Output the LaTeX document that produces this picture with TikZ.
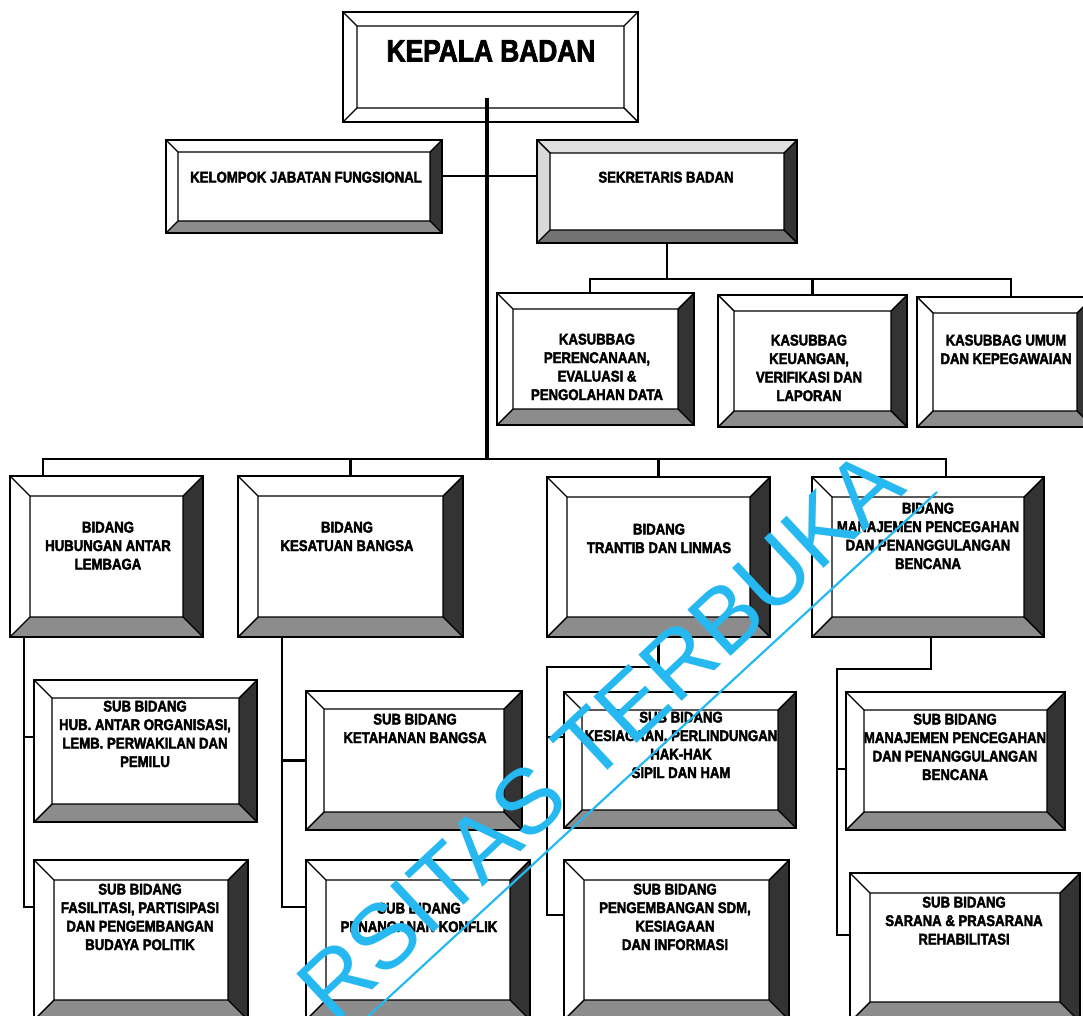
\documentclass[tikz,border=0pt]{standalone}
\usepackage{fontspec}
\usepackage{tikz}
\usetikzlibrary{calc}
\newfontfamily\orgfont{Liberation Sans Bold}[FakeStretch=0.85, FakeBold=2.5]
\newfontfamily\wmfont{Liberation Sans}
\definecolor{wmcyan}{RGB}{38,184,240}
\colorlet{rshade}{black!80}
\colorlet{bshade}{black!45}
\colorlet{tshade}{white}
\colorlet{lshade}{white}

\tikzset{
  bevel/.style={draw, line width=1.6pt, inner sep=0pt, path picture={
    \coordinate (oSW) at (path picture bounding box.south west);
    \coordinate (oNE) at (path picture bounding box.north east);
    \coordinate (oNW) at (path picture bounding box.north west);
    \coordinate (oSE) at (path picture bounding box.south east);
    \coordinate (iSW) at ([shift={(#1pt,#1pt)}]oSW);
    \coordinate (iNE) at ([shift={(-#1pt,-#1pt)}]oNE);
    \coordinate (iNW) at ([shift={(#1pt,-#1pt)}]oNW);
    \coordinate (iSE) at ([shift={(-#1pt,#1pt)}]oSE);
    \fill[tshade] (oNW) -- (oNE) -- (iNE) -- (iNW) -- cycle;
    \fill[lshade] (oNW) -- (oSW) -- (iSW) -- (iNW) -- cycle;
    \fill[rshade] (oNE) -- (oSE) -- (iSE) -- (iNE) -- cycle;
    \fill[bshade] (oSW) -- (oSE) -- (iSE) -- (iSW) -- cycle;
    \draw[line width=1.4pt] (iSW) rectangle (iNE)
      (oSW) -- (iSW) (oSE) -- (iSE) (oNE) -- (iNE) (oNW) -- (iNW);
  }},
  bevel/.default=18,
  flat/.style={/utils/exec={\colorlet{rshade}{white}\colorlet{bshade}{white}}},
  grainy/.style={/utils/exec={\colorlet{tshade}{black!12}\colorlet{lshade}{black!15}\colorlet{bshade}{black!55}}},
  lbl/.style={anchor=north, inner sep=0pt, align=center,
    font=\orgfont\fontsize{15.5}{18.5}\selectfont},
  conn/.style={line width=2.4pt},
}

\begin{document}
\begin{tikzpicture}[x=1pt,y=-1pt]
\useasboundingbox (0,0) rectangle (1083,1016);
\clip (0,0) rectangle (1083,1016);

% top
\node[bevel=14, flat, minimum width=295pt, minimum height=110pt] (kepala) at (490.5,67) {};
\node[bevel=12, minimum width=276pt, minimum height=93pt] (kelompok) at (304,186.5) {};
\node[bevel=13, grainy, minimum width=260pt, minimum height=103pt] (sekretaris) at (667,191.5) {};

% kasubbag
\node[bevel=16, minimum width=197pt, minimum height=132pt] (kasub1) at (595.5,359) {};
\node[bevel=16, minimum width=189pt, minimum height=132pt] (kasub2) at (812.5,361) {};
\node[bevel=16, minimum width=176pt, minimum height=130pt] (kasub3) at (1005,362) {};

% bidang
\node[bevel=20, minimum width=193pt, minimum height=161pt] (bidA) at (106.5,556.5) {};
\node[bevel=20, minimum width=225pt, minimum height=161pt] (bidB) at (350.5,556.5) {};
\node[bevel=20, minimum width=223pt, minimum height=160pt] (bidC) at (658.5,557) {};
\node[bevel=20, minimum width=232pt, minimum height=160pt] (bidD) at (928,557) {};

% sub bidang
\node[bevel, minimum width=223pt, minimum height=142pt] (subA1) at (145.5,751) {};
\node[bevel, minimum width=216pt, minimum height=139pt] (subB1) at (414,760.5) {};
\node[bevel, minimum width=232pt, minimum height=136pt] (subC1) at (680,760) {};
\node[bevel, minimum width=219pt, minimum height=138pt] (subD1) at (955.5,761) {};
\node[bevel=20, minimum width=214pt, minimum height=160pt] (subA2) at (141,940) {};
\node[bevel=20, minimum width=224pt, minimum height=160pt] (subB2) at (418,940) {};
\node[bevel=20, minimum width=225pt, minimum height=160pt] (subC2) at (676.5,940) {};
\node[bevel=20, minimum width=230pt, minimum height=149pt] (subD2) at (965,947.5) {};

% texts
\node[lbl, font=\orgfont\fontsize{31}{31}\selectfont] (kepalaTxt) at (491,40) {KEPALA BADAN};
\node[lbl] (kelompokTxt) at (306,171.5) {KELOMPOK JABATAN FUNGSIONAL};
\node[lbl] (sekretarisTxt) at (666,171.5) {SEKRETARIS BADAN};
\node[lbl] (kasub1Txt) at (597,333.5) {KASUBBAG\\PERENCANAAN,\\EVALUASI \&\\PENGOLAHAN DATA};
\node[lbl] (kasub2Txt) at (809,334.5) {KASUBBAG\\KEUANGAN,\\VERIFIKASI DAN\\LAPORAN};
\node[lbl] (kasub3Txt) at (1006,334.5) {KASUBBAG UMUM\\DAN KEPEGAWAIAN};
\node[lbl] (bidATxt) at (108,521.5) {BIDANG\\HUBUNGAN ANTAR\\LEMBAGA};
\node[lbl] (bidBTxt) at (347,521.5) {BIDANG\\KESATUAN BANGSA};
\node[lbl] (bidCTxt) at (659,523.5) {BIDANG\\TRANTIB DAN LINMAS};
\node[lbl] (bidDTxt) at (928,502.5) {BIDANG\\MANAJEMEN PENCEGAHAN\\DAN PENANGGULANGAN\\BENCANA};
\node[lbl] (subA1Txt) at (145,700.5) {SUB BIDANG\\HUB. ANTAR ORGANISASI,\\LEMB. PERWAKILAN DAN\\PEMILU};
\node[lbl] (subB1Txt) at (415,713.5) {SUB BIDANG\\KETAHANAN BANGSA};
\node[lbl] (subC1Txt) at (681,711.5) {SUB BIDANG\\KESIAGAAN, PERLINDUNGAN\\HAK-HAK\\SIPIL DAN HAM};
\node[lbl] (subD1Txt) at (955,713.5) {SUB BIDANG\\MANAJEMEN PENCEGAHAN\\DAN PENANGGULANGAN\\BENCANA};
\node[lbl] (subA2Txt) at (140,883.5) {SUB BIDANG\\FASILITASI, PARTISIPASI\\DAN PENGEMBANGAN\\BUDAYA POLITIK};
\node[lbl] (subB2Txt) at (419,902.5) {SUB BIDANG\\PENANGANAN KONFLIK};
\node[lbl] (subC2Txt) at (675,883.5) {SUB BIDANG\\PENGEMBANGAN SDM,\\KESIAGAAN\\DAN INFORMASI};
\node[lbl] (subD2Txt) at (964,896.5) {SUB BIDANG\\SARANA \& PRASARANA\\REHABILITASI};

% lines
\coordinate (trunkTop) at (487,98);
\coordinate (trunkBot) at (487,459);
\draw[conn, line width=3.2pt] (trunkTop) -- (trunkBot);
\draw[conn] ([yshift=10.5pt]kelompok.east) -- ([yshift=10.5pt]kelompok.east -| sekretaris.west);

\coordinate (kbar) at (0,279);
\draw[conn] (sekretaris.south) -- (sekretaris.south |- kbar);
\draw[conn] ([xshift=-5.5pt]kasub1.north) |- ([xshift=6pt]kasub3.north |- kbar) -- ([xshift=6pt]kasub3.north);
\draw[conn] (kasub2.north) -- (kasub2.north |- kbar);

\coordinate (bbar) at (0,459);
\draw[conn] ([xshift=-63.5pt]bidA.north) |- ([xshift=18pt]bidD.north |- bbar) -- ([xshift=18pt]bidD.north);
\draw[conn] (bidB.north) -- (bidB.north |- bbar);
\draw[conn] (bidC.north) -- (bidC.north |- bbar);

\draw[conn] ([xshift=-82.5pt]bidA.south) |- ([yshift=33pt]subA2.west);
\draw[conn] ([yshift=14pt]subA1.west) -- ++(-10pt,0pt);
\draw[conn] ([xshift=-68.5pt]bidB.south) |- ([yshift=33pt]subB2.west);
\draw[conn] (subB1.west) -- ++(-24pt,0pt);
\draw[conn] (bidC.south) -- ++(0pt,-29pt) -| ([xshift=-16pt,yshift=25pt]subC2.west) -- ([yshift=25pt]subC2.west);
\draw[conn] ([yshift=23pt]subC1.west) -- ++(-16pt,0pt);
\draw[conn] ([xshift=3pt]bidD.south) -- ++(0pt,-31pt) -| ([xshift=-12pt,yshift=12.5pt]subD2.west) -- ([yshift=12.5pt]subD2.west);
\draw[conn] ([yshift=-8pt]subD1.west) -- ++(-8pt,0pt);

% watermark
\coordinate (wmStart) at (350,1033);
\coordinate (wmEnd) at (937,492);
\draw[wmcyan, line width=2.2pt] (wmStart) -- (wmEnd);
\node[rotate=43, anchor=base west, inner sep=0pt, text=wmcyan,
  font=\wmfont\fontsize{92}{92}\selectfont] (wmark) at (334,1026) {RSITAS TERBUKA};
\end{tikzpicture}
\end{document}
